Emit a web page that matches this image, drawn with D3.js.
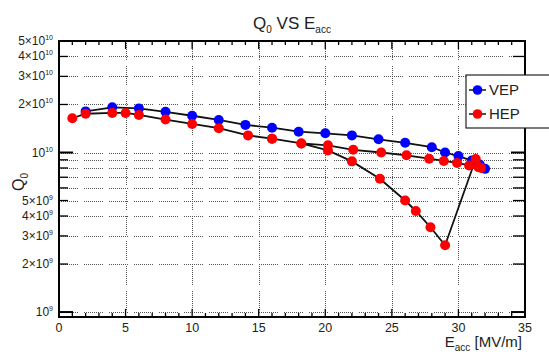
<!DOCTYPE html>
<html>
<head>
<meta charset="utf-8">
<script src="https://cdn.jsdelivr.net/npm/d3@7"></script>
<style>
html,body{margin:0;padding:0;background:#fff;}
svg{display:block;font-family:"Liberation Sans",Arial,sans-serif;}
</style>
</head>
<body>
<svg id="chart" width="549" height="354"></svg>
<script>
// ---- data ----
const vepE = [2, 4, 6, 8, 10, 12, 14, 16, 18, 20, 22, 24, 26, 28, 29, 30, 31, 31.6, 32];
const vepQ = [1.81e10, 1.92e10, 1.89e10, 1.80e10, 1.70e10, 1.60e10, 1.49e10, 1.43e10, 1.35e10, 1.32e10, 1.28e10, 1.21e10, 1.15e10, 1.08e10, 1.00e10, 9.5e9, 8.9e9, 8.4e9, 7.9e9];

const hepE = [1, 2, 4, 5, 6, 8, 10, 12, 14.2, 16, 18.2, 20.2, 22, 24.1, 26, 26.8, 27.9, 29, 31.3, 31.7, 31.5, 30.8, 29.9, 28.9, 27.8, 26.1, 24.2, 22.1, 20.2, 18.2, 16];
const hepQ = [1.64e10, 1.75e10, 1.77e10, 1.77e10, 1.72e10, 1.61e10, 1.51e10, 1.42e10, 1.28e10, 1.22e10, 1.14e10, 1.03e10, 8.8e9, 6.85e9, 5.0e9, 4.3e9, 3.4e9, 2.62e9, 9.1e9, 8.0e9, 8.1e9, 8.3e9, 8.6e9, 8.85e9, 9.15e9, 9.6e9, 1.0e10, 1.04e10, 1.11e10, 1.14e10, 1.22e10];

const seriesNames = ["VEP", "HEP"];
const seriesColors = ["#0000ff", "#ff0000"];

const xTicks = [0, 5, 10, 15, 20, 25, 30, 35];
const xMinor = d3.range(0, 35.01, 1);
const yLabelValues = [1e9, 2e9, 3e9, 4e9, 5e9, 1e10, 2e10, 3e10, 4e10, 5e10];
const yMinor = [2e9, 3e9, 4e9, 5e9, 6e9, 7e9, 8e9, 9e9, 2e10, 3e10, 4e10];
const yMajor = [1e9, 1e10];
const yGrid = [1e9, 2e9, 3e9, 4e9, 5e9, 6e9, 7e9, 8e9, 9e9, 1e10, 2e10, 3e10, 4e10];
const xGrid = [5, 10, 15, 20, 25, 30];

// ---- layout ----
const L = 59, R = 525, T = 41, B = 317;
const svg = d3.select("#chart");
const x = d3.scaleLinear().domain([0, 35]).range([L, R]);
const y = d3.scaleLog().domain([9.31e8, 5e10]).range([B, T]);

const gridDash = "1,1,1,1,1,1,1,1,1,1,1,1,1,1,1,1,1,1,1,6";
// grid
svg.append("g").selectAll("line").data(xGrid).join("line")
  .attr("x1", d => Math.round(x(d)) + 0.5).attr("x2", d => Math.round(x(d)) + 0.5).attr("y1", T).attr("y2", B)
  .attr("stroke", "#555").attr("stroke-width", 1).attr("stroke-dasharray", gridDash);
svg.append("g").selectAll("line").data(yGrid).join("line")
  .attr("x1", L).attr("x2", R).attr("y1", d => Math.round(y(d)) + 0.5).attr("y2", d => Math.round(y(d)) + 0.5)
  .attr("stroke", "#555").attr("stroke-width", 1).attr("stroke-dasharray", gridDash);

// ticks x (bottom and top)
const tk = svg.append("g").attr("stroke", "#000").attr("stroke-width", 1.3);
xMinor.forEach(v => {
  const major = xTicks.includes(v);
  const len = major ? 8 : 4;
  tk.append("line").attr("x1", x(v)).attr("x2", x(v)).attr("y1", B).attr("y2", B - len);
  tk.append("line").attr("x1", x(v)).attr("x2", x(v)).attr("y1", T).attr("y2", T + len);
});
// ticks y (left and right)
yMinor.forEach(v => {
  tk.append("line").attr("x1", L).attr("x2", L + 9).attr("y1", y(v)).attr("y2", y(v));
  tk.append("line").attr("x1", R).attr("x2", R - 12).attr("y1", y(v)).attr("y2", y(v));
});
yMajor.forEach(v => {
  tk.append("line").attr("x1", L).attr("x2", L + 14).attr("y1", y(v)).attr("y2", y(v)).attr("stroke-width", 2);
  tk.append("line").attr("x1", R).attr("x2", R - 14).attr("y1", y(v)).attr("y2", y(v)).attr("stroke-width", 2);
});

// frame
svg.append("rect").attr("x", L).attr("y", T).attr("width", R - L).attr("height", B - T)
  .attr("fill", "none").attr("stroke", "#000").attr("stroke-width", 2);

// x tick labels
svg.append("g").selectAll("text").data(xTicks).join("text")
  .attr("x", d => x(d)).attr("y", 332).attr("text-anchor", "middle")
  .attr("font-size", 12.5).attr("fill", "#222").text(d => d);

// y tick labels
const yl = svg.append("g").selectAll("text").data(yLabelValues).join("text")
  .attr("x", 53).attr("y", d => y(d) + 4).attr("text-anchor", "end")
  .attr("font-size", 12).attr("fill", "#222");
yl.each(function(d) {
  const e = Math.floor(Math.log10(d) + 1e-9);
  const m = Math.round(d / Math.pow(10, e));
  const t = d3.select(this);
  t.append("tspan").text((m === 1 ? "" : m + "\u00d7") + "10");
  t.append("tspan").attr("dy", -5).attr("font-size", 7).text(e);
});

// lines + markers
const line = d3.line().x(d => x(d[0])).y(d => y(d[1]));
const series = [
  { name: seriesNames[0], color: seriesColors[0], pts: vepE.map((e, i) => [e, vepQ[i]]) },
  { name: seriesNames[1], color: seriesColors[1], pts: hepE.map((e, i) => [e, hepQ[i]]) }
];
series.forEach(s => {
  svg.append("path").datum(s.pts).attr("d", line)
    .attr("fill", "none").attr("stroke", "#111").attr("stroke-width", 1.8);
});
series.forEach(s => {
  svg.append("g").selectAll("circle").data(s.pts).join("circle")
    .attr("cx", d => x(d[0])).attr("cy", d => y(d[1])).attr("r", 5)
    .attr("fill", s.color);
});

// title
const title = svg.append("text").attr("x", 292).attr("y", 29).attr("text-anchor", "middle")
  .attr("font-size", 17).attr("fill", "#222");
title.append("tspan").text("Q");
title.append("tspan").attr("dy", 4).attr("font-size", 10).text("0");
title.append("tspan").attr("dy", -4).text(" VS E");
title.append("tspan").attr("dy", 4).attr("font-size", 10).text("acc");

// x axis title
const xt = svg.append("text").attr("x", 522).attr("y", 347).attr("text-anchor", "end")
  .attr("font-size", 15).attr("fill", "#222");
xt.append("tspan").text("E");
xt.append("tspan").attr("dy", 4).attr("font-size", 10).text("acc");
xt.append("tspan").attr("dy", -4).text(" [MV/m]");

// y axis title
const yt = svg.append("text").attr("transform", "translate(24,182) rotate(-90)")
  .attr("text-anchor", "middle").attr("font-size", 16).attr("fill", "#222");
yt.append("tspan").text("Q");
yt.append("tspan").attr("dy", 4).attr("font-size", 10).text("0");

// legend
const lg = svg.append("g");
lg.append("rect").attr("x", 466).attr("y", 75).attr("width", 100).attr("height", 53)
  .attr("fill", "#fff").attr("stroke", "#222").attr("stroke-width", 1.2);
series.forEach((s, i) => {
  const ly = 90 + i * 24;
  lg.append("line").attr("x1", 469).attr("x2", 486).attr("y1", ly).attr("y2", ly)
    .attr("stroke", "#222").attr("stroke-width", 1.6);
  lg.append("circle").attr("cx", 477.5).attr("cy", ly).attr("r", 4.8).attr("fill", s.color);
  lg.append("text").attr("x", 489).attr("y", ly + 5).attr("font-size", 15).attr("fill", "#222").text(s.name);
});
</script>
</body>
</html>
